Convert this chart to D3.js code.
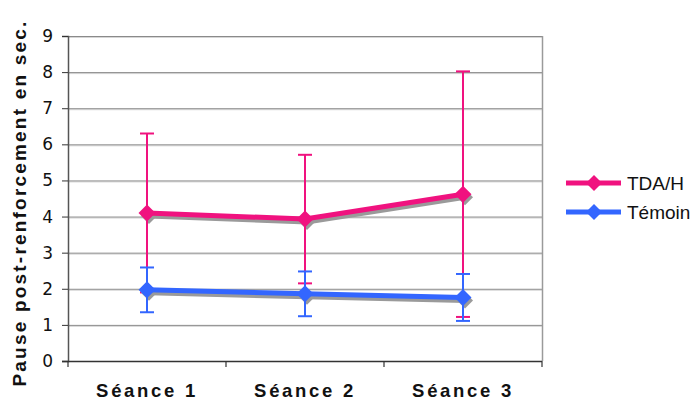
<!DOCTYPE html>
<html><head><meta charset="utf-8">
<script src="https://cdn.jsdelivr.net/npm/d3@7"></script>
<style>html,body{margin:0;padding:0;background:#fff;}svg{display:block;}</style>
</head><body>
<svg id="c" width="694" height="401"></svg>
<script>
const categories = ["Séance 1", "Séance 2", "Séance 3"];
const seriesNames = ["TDA/H", "Témoin"];
const tdaMean = [4.1, 3.93, 4.62];
const tdaErr = [2.2, 1.78, 3.4];
const temoinMean = [1.97, 1.86, 1.76];
const temoinErr = [0.62, 0.62, 0.65];
const yTicks = [0, 1, 2, 3, 4, 5, 6, 7, 8, 9];
const yTitle = "Pause post-renforcement en sec.";

const colors = ["#F0127F", "#3366FF"];
const series = [
  {name: seriesNames[0], mean: tdaMean, err: tdaErr, color: colors[0]},
  {name: seriesNames[1], mean: temoinMean, err: temoinErr, color: colors[1]}
];

const svg = d3.select("#c");
const L = 68, R = 542, T = 36, B = 361;
const x = d3.scaleBand().domain(categories).range([L, R]);
const y = d3.scaleLinear().domain([0, 9]).range([B, T]);
const cx = d => x(d) + x.bandwidth() / 2;

// gridlines
const g = svg.append("g");
g.selectAll("line.gs").data(yTicks.filter(d => d > 0)).join("line")
  .attr("x1", L).attr("x2", R).attr("y1", d => y(d) + 1.5).attr("y2", d => y(d) + 1.5)
  .attr("stroke", "#d6d6d6").attr("stroke-width", 1);
g.selectAll("line.gl").data(yTicks.filter(d => d > 0)).join("line")
  .attr("x1", L).attr("x2", R).attr("y1", d => y(d) + 0.5).attr("y2", d => y(d) + 0.5)
  .attr("stroke", "#8a8a8a").attr("stroke-width", 1);
// right border
svg.append("line").attr("x1", R + 0.5).attr("x2", R + 0.5).attr("y1", T).attr("y2", B)
  .attr("stroke", "#9a9a9a").attr("stroke-width", 1.5);

// y axis
const ya = svg.append("g").attr("transform", `translate(${L},0)`)
  .call(d3.axisLeft(y).tickValues(yTicks).tickSize(6).tickPadding(9).tickFormat(d3.format("d")));
ya.select(".domain").attr("stroke", "#555").attr("stroke-width", 1.5);
ya.selectAll(".tick line").attr("stroke", "#333");
ya.selectAll("text").attr("font-family", "DejaVu Sans, Verdana, sans-serif")
  .attr("font-size", 17).attr("fill", "#111");

// x axis
svg.append("line").attr("x1", L - 6).attr("x2", R).attr("y1", B + 0.5).attr("y2", B + 0.5)
  .attr("stroke", "#333").attr("stroke-width", 1.5);
const bounds = categories.map(d => x(d)).concat([x(categories[categories.length - 1]) + x.bandwidth()]);
svg.selectAll("line.xt").data(bounds).join("line")
  .attr("x1", d => d).attr("x2", d => d).attr("y1", B).attr("y2", B + 6)
  .attr("stroke", "#333").attr("stroke-width", 1.2);
const xa = svg.append("g").attr("transform", `translate(0,${B})`)
  .call(d3.axisBottom(x).tickSize(0).tickPadding(23));
xa.select(".domain").remove();
xa.selectAll("text").attr("font-family", "Liberation Sans, Arial, sans-serif")
  .attr("font-weight", "bold").attr("font-size", 18.5).attr("letter-spacing", "2.7px")
  .attr("fill", "#111").attr("dx", "0px");

// y title
svg.append("text").attr("transform", "translate(26,203) rotate(-90)")
  .attr("text-anchor", "middle").attr("font-family", "Liberation Sans, Arial, sans-serif")
  .attr("font-weight", "bold").attr("font-size", 19).attr("letter-spacing", "2.2px")
  .attr("fill", "#111").text(yTitle);

const line = d3.line().x((d, i) => cx(categories[i])).y(d => y(d));
const diamond = (px, py, r) => `M${px},${py - r}L${px + r},${py}L${px},${py + r}L${px - r},${py}Z`;

series.forEach(s => {
  const sg = svg.append("g");
  // shadow
  sg.append("path").attr("d", line(s.mean)).attr("transform", "translate(2,3)")
    .attr("fill", "none").attr("stroke", "#9a9a9a").attr("stroke-width", 5);
  s.mean.forEach((m, i) => {
    sg.append("path").attr("d", diamond(cx(categories[i]) + 2, y(m) + 3, 8)).attr("fill", "#9a9a9a");
  });
  sg.append("path").attr("d", line(s.mean)).attr("fill", "none")
    .attr("stroke", s.color).attr("stroke-width", 5);
  // error bars
  s.mean.forEach((m, i) => {
    const px = cx(categories[i]);
    const hi = y(m + s.err[i]), lo = y(m - s.err[i]);
    sg.append("line").attr("x1", px).attr("x2", px).attr("y1", hi).attr("y2", lo)
      .attr("stroke", s.color).attr("stroke-width", 2);
    [hi, lo].forEach(v => sg.append("line").attr("x1", px - 7).attr("x2", px + 7)
      .attr("y1", v).attr("y2", v).attr("stroke", s.color).attr("stroke-width", 2));
  });
  s.mean.forEach((m, i) => {
    sg.append("path").attr("d", diamond(cx(categories[i]), y(m), 8.5)).attr("fill", s.color);
  });
});

// legend
const lg = svg.append("g");
series.forEach((s, i) => {
  const ly = 183 + i * 29;
  lg.append("line").attr("x1", 566).attr("x2", 621).attr("y1", ly).attr("y2", ly)
    .attr("stroke", s.color).attr("stroke-width", 5);
  lg.append("path").attr("d", diamond(594, ly, 8)).attr("fill", s.color);
  lg.append("text").attr("x", 627).attr("y", ly + 7).attr("font-family", "Liberation Sans, Arial, sans-serif")
    .attr("font-size", 19).attr("fill", "#111").text(s.name);
});
</script>
</body></html>
